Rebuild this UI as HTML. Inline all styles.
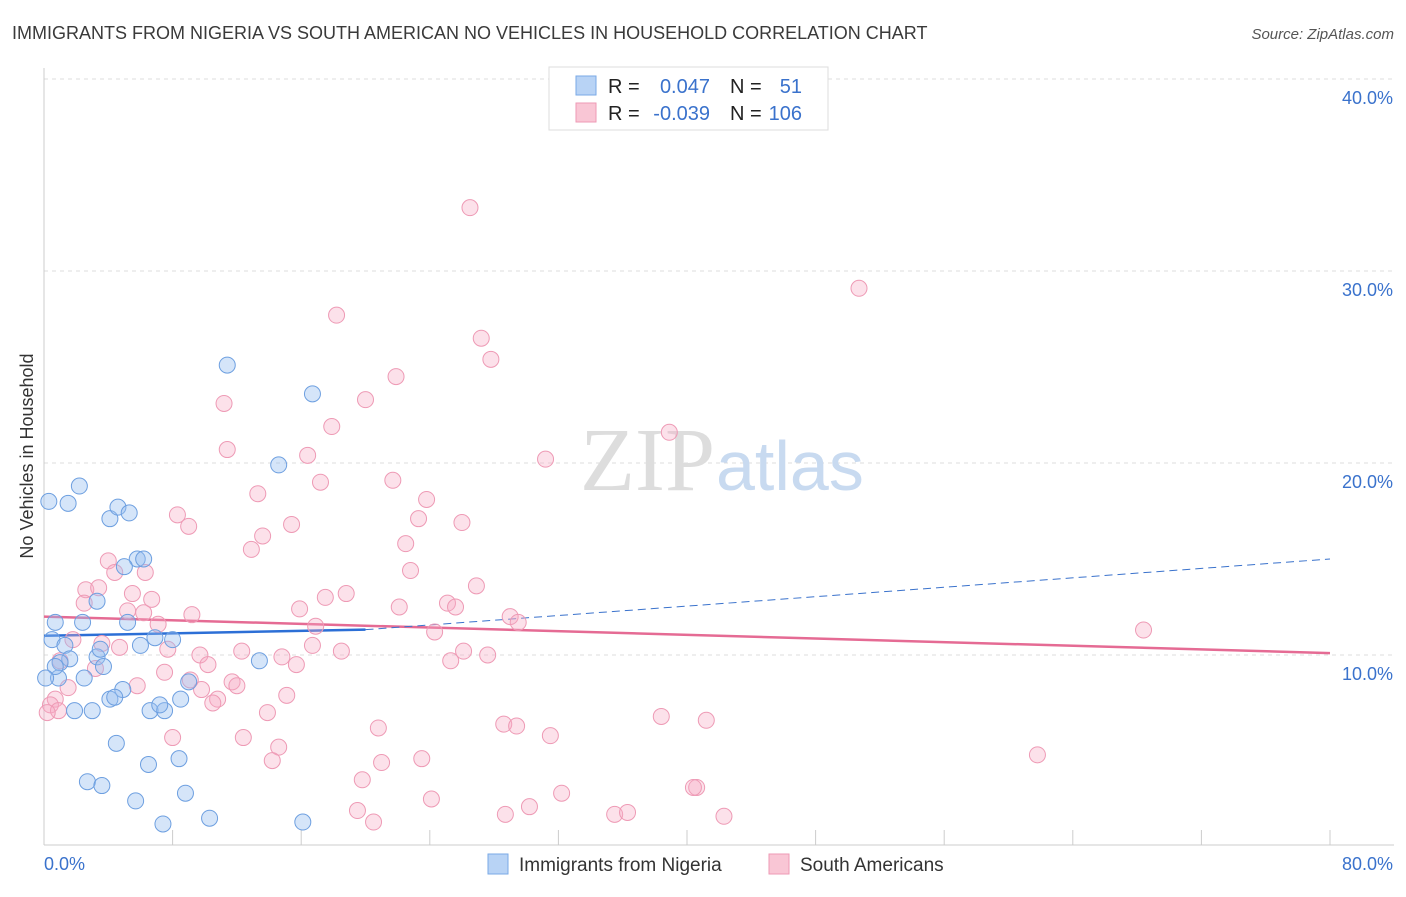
<!DOCTYPE html>
<html><head><meta charset="utf-8">
<style>
body{margin:0;background:#fff;font-family:"Liberation Sans",sans-serif;}
svg text{font-family:"Liberation Sans",sans-serif;}
</style></head>
<body>
<svg id="chart" width="1406" height="892" viewBox="0 0 1406 892">
<text x="12" y="39" font-size="18" fill="#3a3a3a">IMMIGRANTS FROM NIGERIA VS SOUTH AMERICAN NO VEHICLES IN HOUSEHOLD CORRELATION CHART</text>
<text x="1394" y="39" font-size="15" fill="#555" font-style="italic" text-anchor="end">Source: ZipAtlas.com</text>
<text x="0" y="0" transform="translate(33,456) rotate(-90)" font-size="18" fill="#333" text-anchor="middle">No Vehicles in Household</text>
<g id="grid"></g>
<g id="axes"></g>
<text x="715" y="490" font-size="90" fill="#ddd" text-anchor="end" style="font-family:'Liberation Serif',serif">ZIP</text>
<text x="716" y="490" font-size="70" fill="#c8daf0">atlas</text>
<g id="trends"></g>
<g id="pts"></g>
<g>
<rect x="549" y="67" width="279" height="63" fill="#fff" stroke="#ddd"/>
<rect x="576" y="76" width="20" height="19" fill="#b8d3f5" stroke="#7aaae6"/>
<rect x="576" y="103" width="20" height="19" fill="#f9c6d5" stroke="#ee9ab5"/>
<text x="608" y="93" font-size="20" fill="#222">R =</text>
<text x="710" y="93" font-size="20" fill="#3a72cc" text-anchor="end">0.047</text>
<text x="730" y="93" font-size="20" fill="#222">N =</text>
<text x="802" y="93" font-size="20" fill="#3a72cc" text-anchor="end">51</text>
<text x="608" y="120" font-size="20" fill="#222">R =</text>
<text x="710" y="120" font-size="20" fill="#3a72cc" text-anchor="end">-0.039</text>
<text x="730" y="120" font-size="20" fill="#222">N =</text>
<text x="802" y="120" font-size="20" fill="#3a72cc" text-anchor="end">106</text>
</g>
<g>
<rect x="488" y="854" width="20" height="20" fill="#b8d3f5" stroke="#7aaae6"/>
<text x="519" y="871" font-size="19" fill="#333">Immigrants from Nigeria</text>
<rect x="769" y="854" width="20" height="20" fill="#f9c6d5" stroke="#ee9ab5"/>
<text x="800" y="871" font-size="19" fill="#333">South Americans</text>
</g>
</svg>
<script>
const blueX=[0.3,1.5,2.2,4.1,4.6,5.3,5.8,6.2,5.0,3.3,0.7,2.4,5.2,0.5,1.3,1.6,1.0,0.9,2.5,3.3,3.7,3.5,6.9,8.0,6.0,9.0,4.9,4.1,4.4,3.0,1.9,6.6,7.5,7.2,8.5,11.4,16.7,14.6,13.4,4.5,6.5,8.4,2.7,3.6,5.7,8.8,7.4,10.3,16.1,0.7,0.1];
const blueY=[18.0,17.9,18.8,17.1,17.7,17.4,15.0,15.0,14.6,12.8,11.7,11.7,11.7,10.8,10.5,9.8,9.6,8.8,8.8,9.9,9.4,10.3,10.9,10.8,10.5,8.6,8.2,7.7,7.8,7.1,7.1,7.1,7.1,7.4,7.7,25.1,23.6,19.9,9.7,5.4,4.3,4.6,3.4,3.2,2.4,2.8,1.2,1.5,1.3,9.4,8.8];
const pinkX=[26.5,50.7,18.2,27.2,27.8,21.9,20.0,11.2,17.9,38.9,11.4,31.2,16.4,13.3,17.2,21.7,23.8,8.3,9.0,15.4,23.3,26.0,13.6,22.5,12.9,4.0,4.4,6.3,22.8,26.9,2.6,3.4,5.5,6.7,2.5,18.8,17.5,25.1,25.6,22.1,5.2,9.2,15.9,6.2,7.1,16.9,29.0,29.5,24.3,68.4,1.8,3.6,4.7,7.7,9.7,12.3,16.7,18.5,26.1,27.6,25.3,10.2,14.8,15.7,1.0,3.2,7.5,9.1,11.7,12.0,5.8,1.5,9.8,10.8,10.5,15.1,0.7,0.4,0.9,0.2,13.9,38.4,41.2,20.8,28.6,29.4,12.4,31.5,8.0,14.6,14.2,21.0,23.5,19.8,40.6,40.4,32.2,24.1,19.5,30.2,20.5,28.7,35.5,36.3,42.3,61.8];
const pinkY=[33.3,29.1,27.7,26.5,25.4,24.5,23.3,23.1,21.9,21.6,20.7,20.2,20.4,18.4,19.0,19.1,18.1,17.3,16.7,16.8,17.1,16.9,16.2,15.8,15.5,14.9,14.3,14.3,14.4,13.6,13.4,13.5,13.2,12.9,12.7,13.2,13.0,12.7,12.5,12.5,12.3,12.1,12.4,12.2,11.6,11.5,12.0,11.7,11.2,11.3,10.8,10.6,10.4,10.3,10.0,10.2,10.5,10.2,10.2,10.0,9.7,9.5,9.9,9.5,9.7,9.3,9.1,8.7,8.6,8.4,8.4,8.3,8.2,7.7,7.5,7.9,7.7,7.4,7.1,7.0,7.0,6.8,6.6,6.2,6.4,6.3,5.7,5.8,5.7,5.2,4.5,4.4,4.6,3.5,3.1,3.1,2.8,2.5,1.9,2.1,1.3,1.7,1.7,1.8,1.6,4.8];
const yTicks=[10,20,30,40];
const yTickLabels=["10.0%","20.0%","30.0%","40.0%"];
const xTickLabels=["0.0%","80.0%"];
const blueTrend=[11.0,11.32];
const blueTrendEndX=20;
const blueTrendFarY=15.0;
const pinkTrend=[12.0,10.1];

const NS="http://www.w3.org/2000/svg";
const xs=v=>44+v*(1286/80);
const ys=v=>847-v*19.2;
function mk(tag,attrs,parent){const e=document.createElementNS(NS,tag);for(const k in attrs)e.setAttribute(k,attrs[k]);parent.appendChild(e);return e;}
const grid=document.getElementById('grid'),axes=document.getElementById('axes');
yTicks.forEach((t,i)=>{
  const g=mk('line',{x1:44,x2:1394,y1:ys(t),y2:ys(t),stroke:'#ddd','stroke-dasharray':'4,4'},grid);
  
  
  const l=mk('text',{x:1393,y:ys(t)+25,'font-size':18,fill:'#3a72cc','text-anchor':'end'},axes);
  l.textContent=yTickLabels[i];
  
  
});
const ax=mk('line',{x1:44,x2:1394,y1:845,y2:845,stroke:'#ccc'},axes);


const ay=mk('line',{x1:44,x2:44,y1:68,y2:845,stroke:'#ccc'},axes);


for(let i=0;i<=10;i++){
  const t=mk('line',{x1:xs(i*8),x2:xs(i*8),y1:830,y2:845,stroke:'#ccc'},axes);
  
  
}
const xl0=mk('text',{x:44,y:870,'font-size':18,fill:'#3a72cc'},axes);
xl0.textContent=xTickLabels[0];


const xl1=mk('text',{x:1393,y:870,'font-size':18,fill:'#3a72cc','text-anchor':'end'},axes);
xl1.textContent=xTickLabels[1];



const pts=document.getElementById('pts');
pinkX.forEach((x,i)=>{
  const c=mk('circle',{cx:xs(x),cy:ys(pinkY[i]),r:8,fill:'rgba(246,170,195,0.35)',stroke:'#ee9ab5','stroke-width':1},pts);
  
  
});
blueX.forEach((x,i)=>{
  const c=mk('circle',{cx:xs(x),cy:ys(blueY[i]),r:8,fill:'rgba(150,190,240,0.4)',stroke:'#6d9fe0','stroke-width':1},pts);
  
  
});
const tr=document.getElementById('trends');
const pl=mk('line',{x1:xs(0),y1:ys(pinkTrend[0]),x2:xs(80),y2:ys(pinkTrend[1]),stroke:'#e56b94','stroke-width':2.5},tr);


const bd=mk('line',{x1:xs(blueTrendEndX),y1:ys(blueTrend[1]),x2:xs(80),y2:ys(blueTrendFarY),stroke:'#3a72cc','stroke-width':1,'stroke-dasharray':'8,5'},tr);


const bl=mk('line',{x1:xs(0),y1:ys(blueTrend[0]),x2:xs(blueTrendEndX),y2:ys(blueTrend[1]),stroke:'#2c6fd6','stroke-width':2.5},tr);


</script>
</body></html>
